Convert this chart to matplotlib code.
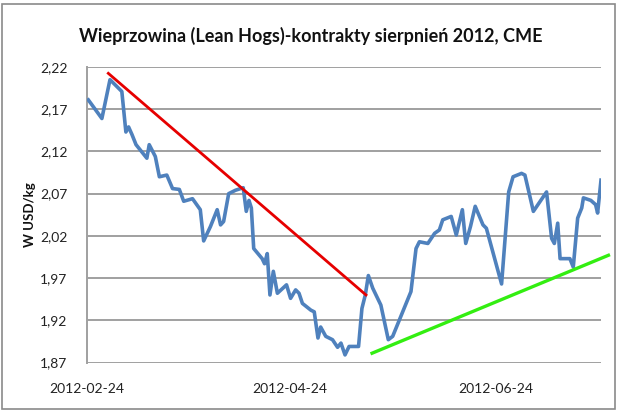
import matplotlib
matplotlib.use("Agg")
import matplotlib.pyplot as plt
from matplotlib.patches import Rectangle

plt.rcParams['font.family'] = ['Lato', 'DejaVu Sans']

# days since 2012-02-24 and price in USD/kg
days = [0.4, 4.4, 6.8, 10.3, 11.5, 12.3, 13.3, 14.5, 17.7, 18.4, 20.2, 21.4, 23.6, 25.3,
        27.3, 28.6, 31.2, 33.5, 34.5, 36.5, 38.5, 39.5, 40.4, 41.9, 43.9, 46.2, 47.1, 47.9,
        48.6, 49.3, 51.8, 52.5, 53.3, 54.1, 55.1, 56.3, 59.0, 60.2, 61.7, 62.7, 63.7, 66.2,
        67.2, 68.3, 69.1, 70.6, 72.6, 74.1, 75.1, 76.3, 77.5, 80.3, 81.3, 82.3, 83.2, 84.5,
        86.9, 89.1, 90.4, 95.8, 97.3, 98.3, 100.8, 102.8, 104.2, 105.2, 107.7, 109.2, 111.0,
        112.0, 113.4, 114.8, 117.1, 118.1, 122.6, 124.7, 126.0, 128.5, 129.5, 132.0, 135.9,
        137.4, 138.2, 139.2, 139.9, 142.8, 143.8, 145.1, 146.3, 146.8, 149.0, 150.4, 151.0,
        152.0]
prices = [2.181, 2.159, 2.205, 2.191, 2.143, 2.149, 2.140, 2.128, 2.112, 2.128, 2.114, 2.090,
          2.092, 2.076, 2.075, 2.061, 2.064, 2.051, 2.014, 2.031, 2.051, 2.033, 2.037, 2.070,
          2.074, 2.077, 2.049, 2.062, 2.053, 2.005, 1.993, 1.987, 1.999, 1.950, 1.978, 1.952,
          1.962, 1.946, 1.956, 1.952, 1.940, 1.932, 1.930, 1.899, 1.912, 1.901, 1.897, 1.888,
          1.893, 1.879, 1.889, 1.889, 1.934, 1.950, 1.973, 1.958, 1.938, 1.897, 1.901, 1.954,
          2.005, 2.013, 2.011, 2.023, 2.027, 2.039, 2.043, 2.021, 2.051, 2.011, 2.031, 2.055,
          2.033, 2.029, 1.963, 2.072, 2.090, 2.094, 2.092, 2.049, 2.072, 2.017, 2.011, 2.035,
          1.993, 1.993, 1.983, 2.041, 2.053, 2.065, 2.062, 2.057, 2.047, 2.086]

red_days = [6.3, 82.5]
red_vals = [2.2125, 1.950]
green_days = [84.3, 154.2]
green_vals = [1.881, 1.997]

y_ticks = [1.87, 1.92, 1.97, 2.02, 2.07, 2.12, 2.17, 2.22]
y_labels = ['1,87', '1,92', '1,97', '2,02', '2,07', '2,12', '2,17', '2,22']
x_ticks = [0, 60, 121]
x_labels = ['2012-02-24', '2012-04-24', '2012-06-24']

W, H = 620, 413
fig = plt.figure(figsize=(W / 100, H / 100), dpi=100)
fig.patch.set_facecolor('white')
fig.patches.append(Rectangle((2 / W, 4 / H), 613 / W, 405 / H, transform=fig.transFigure,
                             fill=False, edgecolor='#8a8a8a', linewidth=1.2))

ax = fig.add_axes([87 / W, 1 - 362.5 / H, (601 - 87) / W, (362.5 - 67) / H])
ax.set_xlim(0, 152)
ax.set_ylim(1.87, 2.22)

for t in y_ticks:
    ax.axhline(t, color='#a0a0a0', linewidth=1.4, zorder=1)

ax.plot(days, prices, color='#4f81bd', linewidth=2.6, solid_joinstyle='round', zorder=3)
ax.plot(red_days, red_vals, color='#e60000', linewidth=2.0, zorder=4)
ax.plot(green_days, green_vals, color='#33ee11', linewidth=2.4, zorder=4, clip_on=False)

for s in ['top', 'right', 'bottom']:
    ax.spines[s].set_visible(False)
ax.spines['left'].set_color('#a0a0a0')
ax.spines['left'].set_linewidth(1.4)

ax.set_yticks(y_ticks)
ax.set_yticklabels(y_labels)
ax.set_xticks(x_ticks)
ax.set_xticklabels(x_labels)
ax.tick_params(axis='both', length=0, labelsize=10, colors='#222222')
ax.tick_params(axis='y', pad=14)
ax.tick_params(axis='x', pad=15)

fig.text(30 / W, 1 - 215 / H, 'W USD/kg', rotation=90, ha='center', va='center',
         fontsize=9.5, fontweight='bold', color='#111111')
fig.text(311 / W, 1 - 36 / H, 'Wieprzowina (Lean Hogs)-kontrakty sierpnień 2012, CME',
         ha='center', va='center', fontsize=13, fontweight='bold', color='#111111')

fig.savefig('out.png', dpi=100)
